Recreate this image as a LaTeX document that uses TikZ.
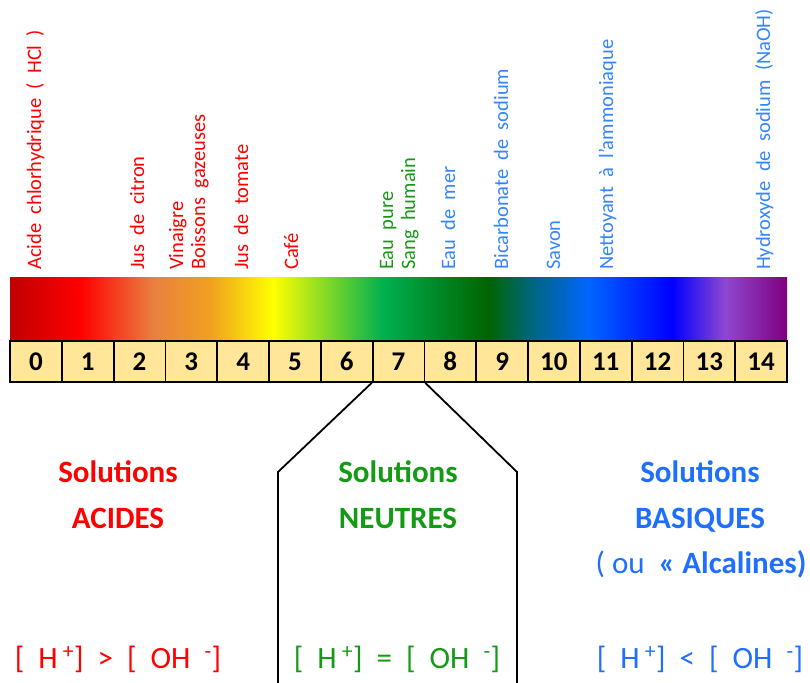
\documentclass[tikz,border=0pt]{standalone}
\usepackage{fontspec}
\setmainfont{Carlito}
\newfontfamily\labfont[WordSpace=2]{Carlito}
\definecolor{acide}{HTML}{FF0000}
\definecolor{neutre}{HTML}{159A15}
\definecolor{basique}{HTML}{1F6FFF}
\definecolor{labbleu}{HTML}{3385FF}
\definecolor{casejaune}{HTML}{FFE699}
% couleurs de la barre pH
\definecolor{ph0}{HTML}{C00000}
\definecolor{ph1}{HTML}{FF0000}
\definecolor{ph2}{HTML}{E88040}
\definecolor{ph3}{HTML}{F0A020}
\definecolor{ph4}{HTML}{FFFF00}
\definecolor{ph5}{HTML}{00B050}
\definecolor{ph6}{HTML}{006400}
\definecolor{ph7}{HTML}{006680}
\definecolor{ph8}{HTML}{0066FF}
\definecolor{ph9}{HTML}{0000FF}
\definecolor{ph10}{HTML}{8E48D0}
\definecolor{ph11}{HTML}{7F007F}
\pgfdeclarehorizontalshading{barreph}{100bp}{color(0bp)=(ph0); color(25bp)=(ph0);
  color(29.5bp)=(ph1); color(34.2bp)=(ph2); color(37.9bp)=(ph3); color(41.9bp)=(ph4);
  color(49bp)=(ph5); color(55.75bp)=(ph6); color(58.6bp)=(ph7); color(62.2bp)=(ph8);
  color(67.6bp)=(ph9); color(71bp)=(ph10); color(75bp)=(ph11); color(100bp)=(ph11)}

\begin{document}
\begin{tikzpicture}[x=1pt,y={(0pt,-1pt)},
    lab/.style={rotate=90,anchor=base west,inner sep=0pt,font=\labfont\fontsize{20.5}{20.5}\selectfont},
    chiffre/.style={draw,line width=1.8pt,fill=casejaune,minimum width=51.8pt,minimum height=41pt,
      inner sep=0pt,font=\bfseries\fontsize{27}{27}\selectfont},
    titre/.style={anchor=base,font=\bfseries\fontsize{31}{31}\selectfont},
    formule/.style={anchor=base,font=\labfont\fontsize{31}{31}\selectfont},
    trait/.style={line width=1.8pt}]
  \useasboundingbox (0,0) rectangle (810,682);
  % barre de couleurs
  \shade[shading=barreph] (10,277) rectangle (787,341);
  \foreach \i in {0,...,14}
    \node[chiffre] (b\i) at ({35.9+51.8*\i},361.5) {\i};
  % exemples
  \foreach \x/\t/\c [count=\n] in {41/Acide chlorhydrique ( HCl )/acide, 144/Jus de citron/acide,
      183/Vinaigre/acide, 205/Boissons gazeuses/acide, 248/Jus de tomate/acide, 298/Café/acide,
      393/Eau pure/neutre, 415/Sang humain/neutre, 455/Eau de mer/labbleu,
      508/Bicarbonate de sodium/labbleu, 560/Savon/labbleu, 613/Nettoyant à l’ammoniaque/labbleu,
      770/Hydroxyde de sodium (NaOH)/labbleu}
    \node[lab,text=\c] (ex\n) at (\x,270) {\t};
  % zone neutre
  \coordinate (gh) at (278,472);
  \coordinate (gb) at (278,690);
  \coordinate (dh) at (517,472);
  \coordinate (db) at (517,690);
  \draw[trait] (b7.south west) -- (gh) -- (gb);
  \draw[trait] (b7.south east) -- (dh) -- (db);
  % types de solutions
  \node[titre,acide] (sa) at (118,482) {Solutions};
  \node[titre,acide] (acides) at (118,528) {ACIDES};
  \node[titre,neutre] (sn) at (398,482) {Solutions};
  \node[titre,neutre] (neutres) at (398,528) {NEUTRES};
  \node[titre,basique] (sb) at (700,482) {Solutions};
  \node[titre,basique] (basiques) at (700,528) {BASIQUES};
  \node[titre,basique] (alcal) at (701,573) {{\mdseries(\ ou}\ \ « Alcalines)};
  \node[formule,acide] (fa) at (118,668) {[ H\,\textsuperscript{+}] > [ OH \textsuperscript{-}]};
  \node[formule,neutre] (fn) at (397,668) {[ H\,\textsuperscript{+}] = [ OH \textsuperscript{-}]};
  \node[formule,basique] (fb) at (700,668) {[ H\,\textsuperscript{+}] < [ OH \textsuperscript{-}]};
\end{tikzpicture}
\end{document}
